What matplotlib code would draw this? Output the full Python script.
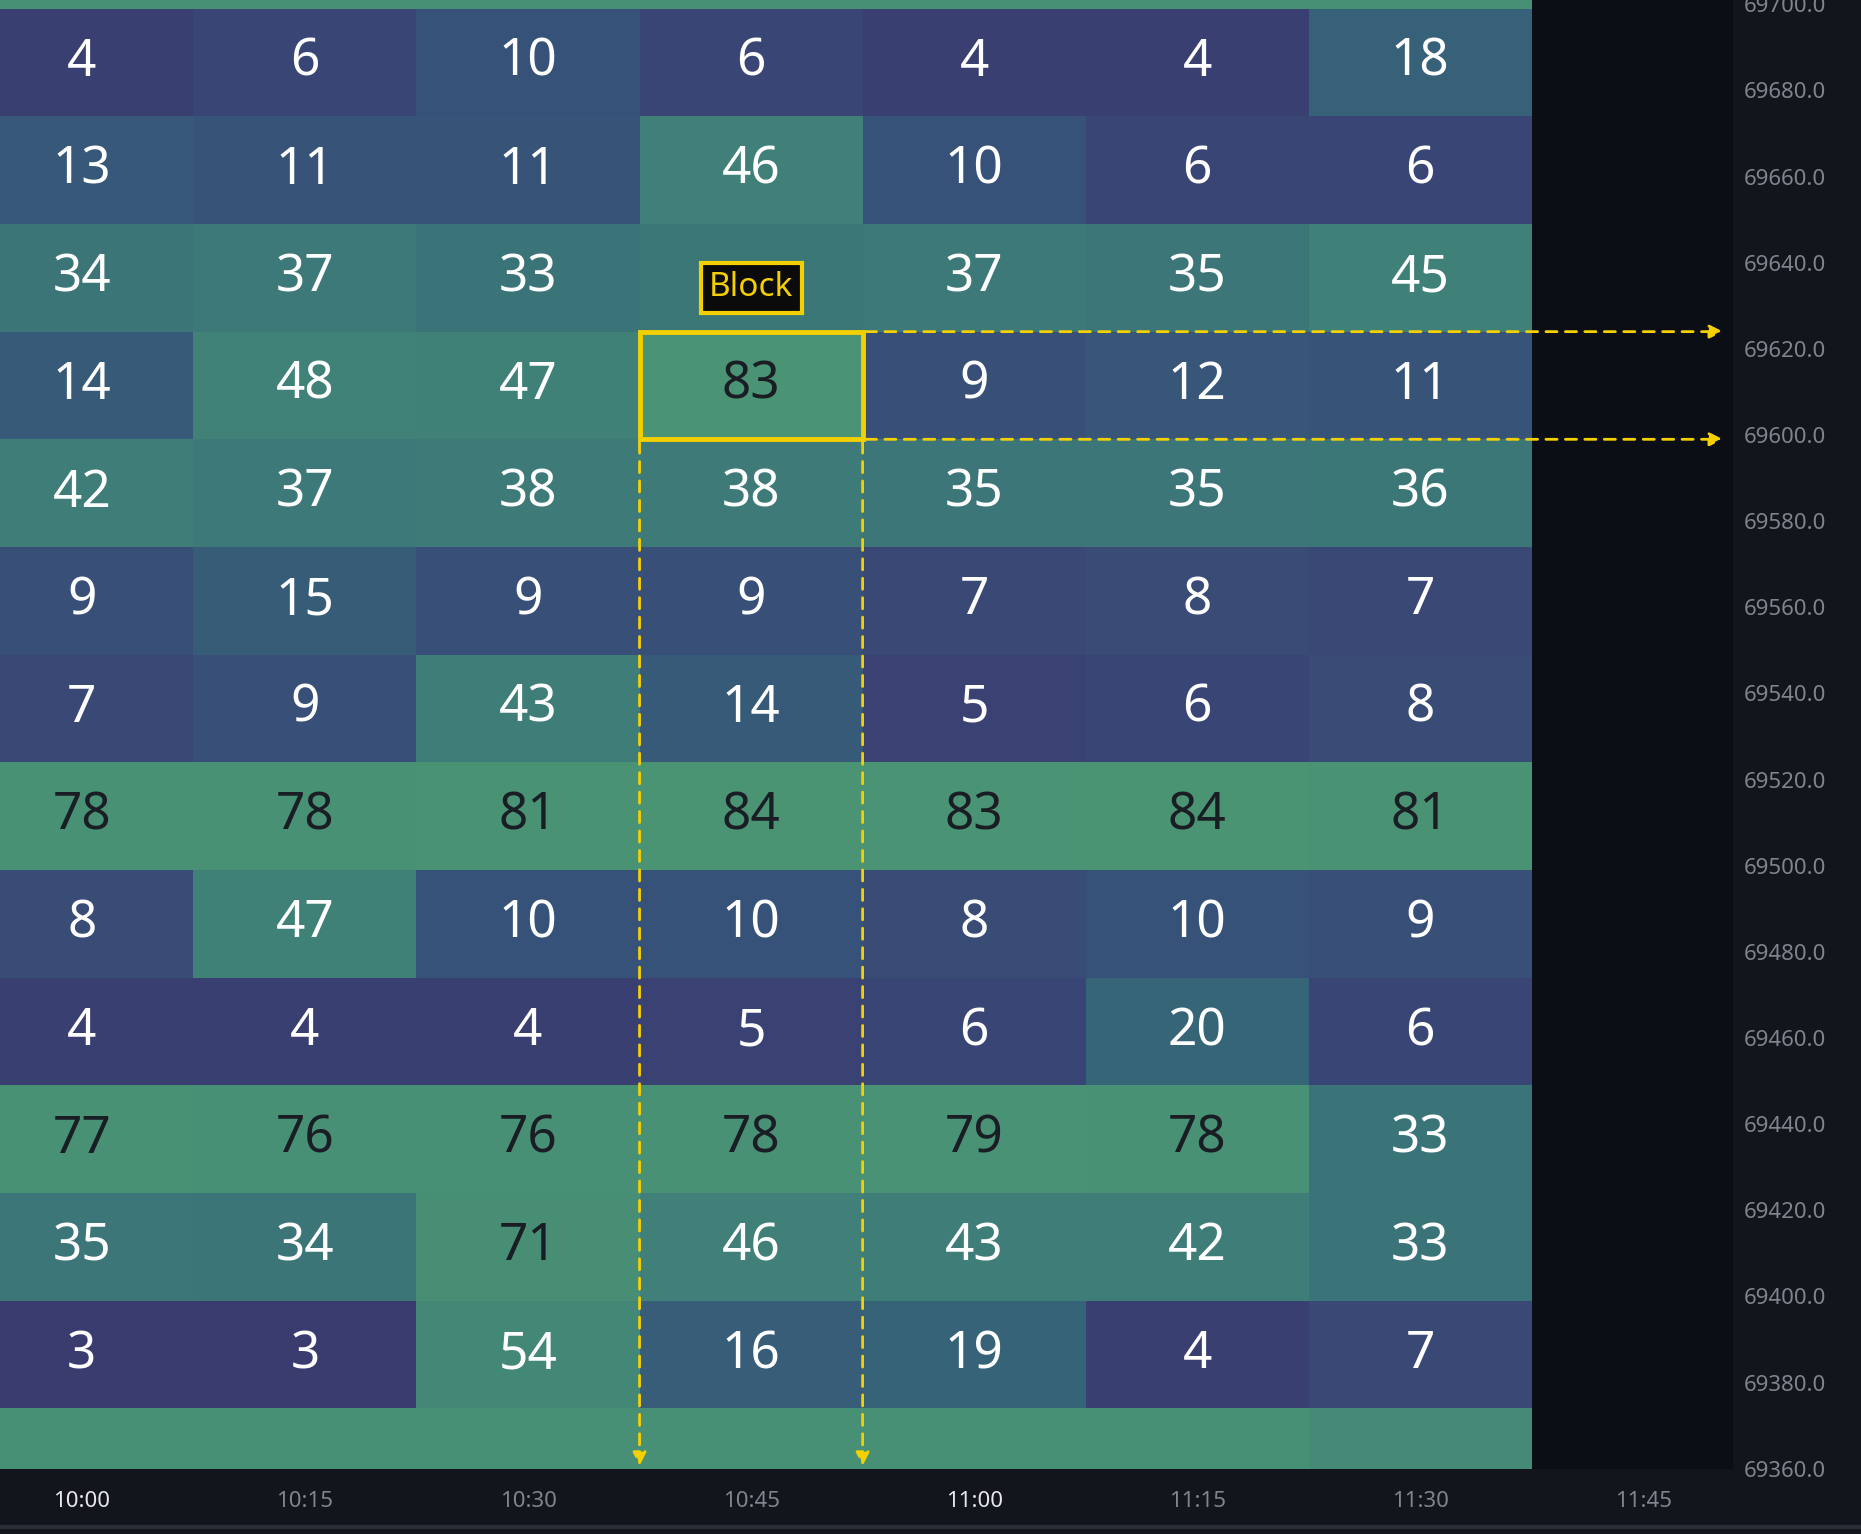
import matplotlib
matplotlib.use("Agg")
import matplotlib.pyplot as plt
import numpy as np
from matplotlib.colors import LinearSegmentedColormap
from matplotlib.patches import Rectangle

times = ["10:00", "10:15", "10:30", "10:45", "11:00", "11:15", "11:30", "11:45"]
row_tops = [69724, 69699, 69674, 69649, 69624, 69599, 69574, 69549, 69524, 69499,
            69474, 69449, 69424, 69399, 69374]
row_top_partial = [72, 72, 72, 72, 72, 72, 72]
r1 = [4, 6, 10, 6, 4, 4, 18]
r2 = [13, 11, 11, 46, 10, 6, 6]
r3 = [34, 37, 33, 36, 37, 35, 45]
r4 = [14, 48, 47, 83, 9, 12, 11]
r5 = [42, 37, 38, 38, 35, 35, 36]
r6 = [9, 15, 9, 9, 7, 8, 7]
r7 = [7, 9, 43, 14, 5, 6, 8]
r8 = [78, 78, 81, 84, 83, 84, 81]
r9 = [8, 47, 10, 10, 8, 10, 9]
r10 = [4, 4, 4, 5, 6, 20, 6]
r11 = [77, 76, 76, 78, 79, 78, 33]
r12 = [35, 34, 71, 46, 43, 42, 33]
r13 = [3, 3, 54, 16, 19, 4, 7]
row_bottom_partial = [76, 76, 72, 76, 76, 74, 60]
labeled_rows = [r1, r2, r3, r4, r5, r6, r7, r8, r9, r10, r11, r12, r13]
all_rows = [row_top_partial] + labeled_rows + [row_bottom_partial]
yticks = list(range(69360, 69701, 20))

cmap = LinearSegmentedColormap.from_list("m", [
    (0.0, "#3b3468"), (0.06, "#3a4274"), (0.12, "#375378"),
    (0.25, "#376778"), (0.45, "#3d7a78"), (0.65, "#438877"), (1.0, "#4a9474")])

fig = plt.figure(figsize=(18.61, 15.34), dpi=100, facecolor="#12151c")
ax = fig.add_axes([0, 0.0426, 0.931, 0.9574])
ax.set_facecolor("#0b0e14")

vals = np.array(all_rows, dtype=float)
xedges = np.arange(len(r1) + 1) - 0.5
yedges = np.array(row_tops + [row_tops[-1] - 25])
ax.pcolormesh(xedges, yedges, vals, cmap=cmap, vmin=0, vmax=85, shading="flat")

font = "Noto Sans"
for i, row in enumerate(labeled_rows):
    yc = row_tops[i + 1] - 12.5
    for j, v in enumerate(row):
        if i == 2 and j == 3:
            continue
        ax.text(j, yc, str(v), ha="center", va="center", fontsize=37,
                family=font, color="#1a1d24" if v >= 60 else "white")

ax.set_xlim(-0.367, 7.40)
ax.set_ylim(69360, 69701)

# highlighted cell
hx, hy_top = 3, row_tops[4]
yel = "#f5d000"
ax.add_patch(Rectangle((hx - 0.5, hy_top - 25), 1, 25, fill=False, ec=yel, lw=3.5, zorder=5))
ax.text(hx, hy_top + 10.2, "Block", ha="center", va="center", fontsize=24, weight="bold",
        family=font, color=yel, zorder=6,
        bbox=dict(boxstyle="square,pad=0.25", fc="#0b0b0b", ec=yel, lw=3))
xr = 7.37
for yy in (hy_top, hy_top - 25):
    ax.annotate("", xy=(xr, yy), xytext=(hx + 0.5, yy),
                arrowprops=dict(arrowstyle="-|>", color=yel, lw=2, ls=(0, (4, 3)),
                                mutation_scale=20), zorder=5)
for xx in (hx - 0.5, hx + 0.5):
    ax.annotate("", xy=(xx, 69360), xytext=(xx, hy_top - 25),
                arrowprops=dict(arrowstyle="-|>", color=yel, lw=2, ls=(0, (4, 3)),
                                mutation_scale=20), zorder=5)

ax.set_xticks(range(len(times)))
ax.set_xticklabels(times)
ax.set_yticks(yticks)
ax.set_yticklabels([f"{t}.0" for t in yticks])
ax.yaxis.tick_right()
ax.tick_params(axis="y", length=0, pad=8, labelsize=16, labelcolor="#80848c")
ax.tick_params(axis="x", length=0, pad=16, labelsize=16, labelcolor="#80848c")
for lab in ax.get_yticklabels() + ax.get_xticklabels():
    lab.set_family(font)
for k in (0, 4):
    ax.get_xticklabels()[k].set_color("#e6e8ec")
for s in ax.spines.values():
    s.set_visible(False)
fig.add_artist(plt.Line2D([0, 1], [0.0045, 0.0045], color="#2a2e36", lw=3))
fig.savefig("out.png", dpi=100, facecolor=fig.get_facecolor())
